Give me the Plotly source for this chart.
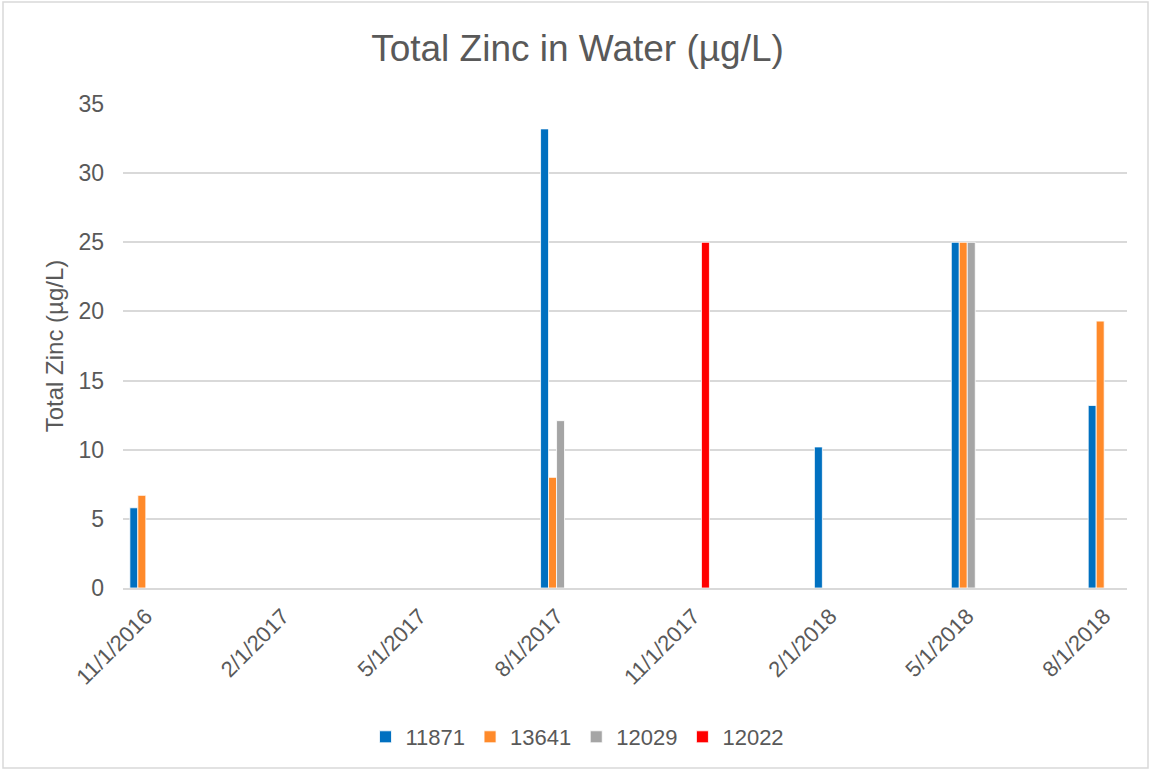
import plotly.graph_objects as go

# Monthly category axis from Nov 2016 through Aug 2018
months = []
for year, month in [(2016, m) for m in (11, 12)] + [(2017, m) for m in range(1, 13)] + [(2018, m) for m in range(1, 9)]:
    months.append(f"{month}/1/{year}")
tick_months = months[::3]

# Total zinc results (µg/L) by station
dates_11871 = ["11/1/2016", "8/1/2017", "2/1/2018", "5/1/2018", "8/1/2018"]
zinc_11871 = [5.8, 33.2, 10.2, 25, 13.2]

dates_13641 = ["11/1/2016", "8/1/2017", "5/1/2018", "8/1/2018"]
zinc_13641 = [6.7, 8.0, 25, 19.3]

dates_12029 = ["8/1/2017", "5/1/2018"]
zinc_12029 = [12.1, 25]

dates_12022 = ["11/1/2017"]
zinc_12022 = [25]

stations = ["11871", "13641", "12029", "12022"]
colors = ["#0070C0", "#FF8A2A", "#A5A5A5", "#FF0000"]
series = [
    (dates_11871, zinc_11871),
    (dates_13641, zinc_13641),
    (dates_12029, zinc_12029),
    (dates_12022, zinc_12022),
]

FONT = "Liberation Sans, Arial, sans-serif"
TEXT = "#595959"
GRID = "#D9D9D9"

fig = go.Figure()
for name, color, (x, y) in zip(stations, colors, series):
    fig.add_trace(go.Bar(
        x=x, y=y, name=name,
        marker=dict(color=color, line=dict(color="white", width=0.8)),
    ))

# plot area in pixels: x 123..1127, y 104..588
L, R, T, B = 123, 28, 104, 184
W, H = 1155, 772
pw, ph = W - L - R, H - T - B


def px_x(px):
    return (px - L) / pw


def px_y(py):
    return (H - B - py) / ph


fig.update_layout(
    width=W, height=H,
    margin=dict(l=L, r=R, t=T, b=B),
    paper_bgcolor="white", plot_bgcolor="white",
    font=dict(family=FONT, color=TEXT, size=22),
    barmode="group", bargap=0.3, bargroupgap=0,
    title=dict(
        text="Total Zinc in Water (µg/L)",
        font=dict(size=37, color=TEXT, family=FONT),
        x=0.5, xanchor="center", xref="container",
        y=1 - 48 / H, yanchor="middle", yref="container",
    ),
    xaxis=dict(
        type="category",
        categoryorder="array", categoryarray=months,
        range=[-0.5, len(months) - 0.5],
        tickvals=tick_months, ticktext=tick_months,
        tickangle=-45, tickfont=dict(size=22, color=TEXT),
        showgrid=False, showline=True, linecolor=GRID, linewidth=1.5,
        ticks="", ticklabelstandoff=5,
    ),
    yaxis=dict(
        range=[0, 35], dtick=5,
        showgrid=True, gridcolor=GRID, gridwidth=1.5,
        zeroline=False, showline=False, ticks="",
        tickfont=dict(size=23, color=TEXT),
        ticklabelstandoff=18,
        title=dict(text="Total Zinc (µg/L)", font=dict(size=24, color=TEXT), standoff=8),
    ),
    legend=dict(
        orientation="h",
        x=0.5, xanchor="center", xref="container",
        y=1 - 737 / H, yanchor="middle", yref="container",
        font=dict(size=22, color=TEXT),
        itemwidth=30,
    ),
    showlegend=True,
    shapes=[dict(
        type="rect", xref="paper", yref="paper",
        x0=px_x(3), x1=px_x(1148), y0=px_y(768), y1=px_y(2),
        line=dict(color=GRID, width=1.5), fillcolor="rgba(0,0,0,0)", layer="below",
    )],
)

fig.write_html("out.html")
